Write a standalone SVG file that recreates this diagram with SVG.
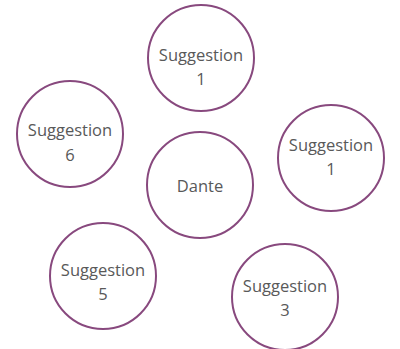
<svg xmlns="http://www.w3.org/2000/svg" width="400" height="349" viewBox="0 0 400 349">
<style>
.c{fill:#fff;stroke:#88497e;stroke-width:2}
.t{font-family:"Open Sans","Liberation Sans",sans-serif;font-size:16.5px;fill:#595959;text-anchor:middle}
</style>
<rect width="400" height="349" fill="#fff"/>
<g id="top"><circle class="c" cx="201" cy="58" r="53"/><text class="t" x="201" y="61">Suggestion</text><text class="t" x="201" y="85">1</text></g>
<g id="left"><circle class="c" cx="70" cy="134" r="53"/><text class="t" x="70" y="136">Suggestion</text><text class="t" x="70" y="161">6</text></g>
<g id="right"><circle class="c" cx="331" cy="158" r="53"/><text class="t" x="331" y="151">Suggestion</text><text class="t" x="331" y="175">1</text></g>
<g id="center"><circle class="c" cx="200" cy="185" r="53"/><text class="t" x="200" y="192">Dante</text></g>
<g id="bottomleft"><circle class="c" cx="103" cy="276" r="53"/><text class="t" x="103" y="276">Suggestion</text><text class="t" x="103" y="300">5</text></g>
<g id="bottomright"><circle class="c" cx="285" cy="297" r="53"/><text class="t" x="285" y="292">Suggestion</text><text class="t" x="285" y="316">3</text></g>
<g id="connectors"></g>
</svg>
